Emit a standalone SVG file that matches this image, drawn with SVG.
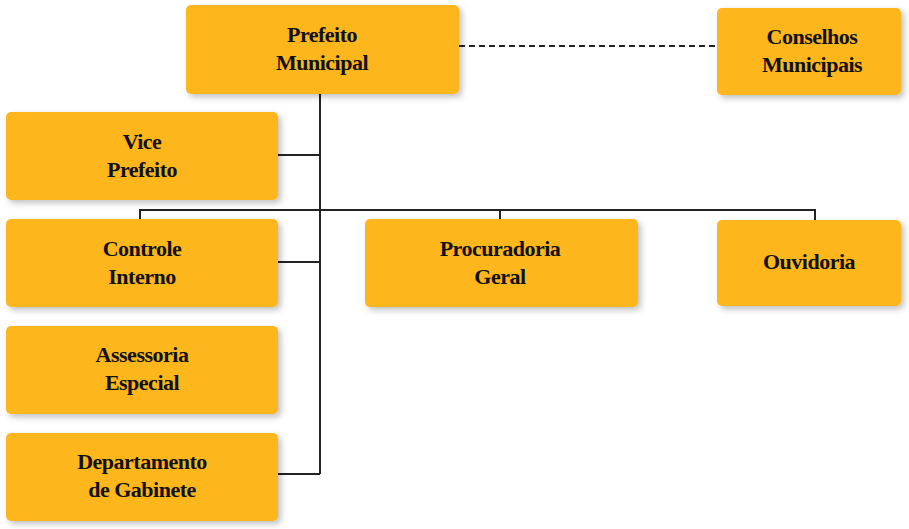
<svg xmlns="http://www.w3.org/2000/svg" width="909" height="529" viewBox="0 0 909 529">
<defs>
<filter id="sh" x="-10%" y="-10%" width="125%" height="130%"><feDropShadow dx="3" dy="3" stdDeviation="3" flood-color="#000" flood-opacity="0.25"/></filter>
<style>
.b{fill:#FDB71E;filter:url(#sh)}
.t{font-family:"Liberation Serif",serif;font-weight:bold;font-size:22px;fill:#111;text-anchor:middle;letter-spacing:-0.5px}
.l{stroke:#222;stroke-width:2;fill:none}
</style>
</defs>
<rect width="909" height="529" fill="#fff"/>
<g id="connectors">
<path class="l" d="M320 94V474M278 155H320M278 262H320M278 474H320M140 219V210H815V220M500 210V219"/>
<path class="l" stroke-dasharray="6,4" d="M459 46H717"/>
</g>
<g id="prefeito"><rect class="b" x="186" y="5" width="273" height="89" rx="5"/><text class="t" x="322" y="42">Prefeito</text><text class="t" x="322" y="70">Municipal</text></g>
<g id="conselhos"><rect class="b" x="717" y="8" width="184" height="87" rx="5"/><text class="t" x="812" y="44">Conselhos</text><text class="t" x="812" y="72">Municipais</text></g>
<g id="vice"><rect class="b" x="6" y="112" width="272" height="88" rx="5"/><text class="t" x="142" y="149">Vice</text><text class="t" x="142" y="177">Prefeito</text></g>
<g id="controle"><rect class="b" x="6" y="219" width="272" height="88" rx="5"/><text class="t" x="142" y="256">Controle</text><text class="t" x="142" y="284">Interno</text></g>
<g id="assessoria"><rect class="b" x="6" y="326" width="272" height="88" rx="5"/><text class="t" x="142" y="362">Assessoria</text><text class="t" x="142" y="390">Especial</text></g>
<g id="departamento"><rect class="b" x="6" y="433" width="272" height="88" rx="5"/><text class="t" x="142" y="469">Departamento</text><text class="t" x="142" y="497">de Gabinete</text></g>
<g id="procuradoria"><rect class="b" x="365" y="219" width="273" height="88" rx="5"/><text class="t" x="500" y="256">Procuradoria</text><text class="t" x="500" y="284">Geral</text></g>
<g id="ouvidoria"><rect class="b" x="717" y="220" width="184" height="86" rx="5"/><text class="t" x="809" y="269">Ouvidoria</text></g>
</svg>
